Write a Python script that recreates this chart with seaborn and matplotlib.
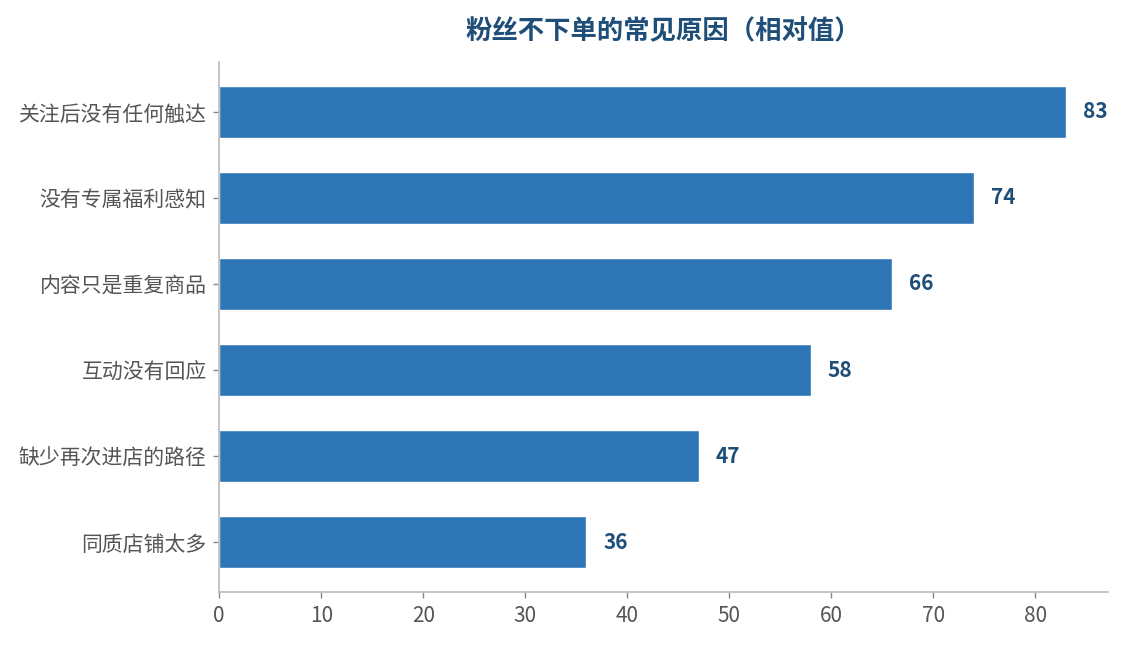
import seaborn as sns
import matplotlib.pyplot as plt
import pandas as pd

# Data
reasons = ['关注后没有任何触达', '没有专属福利感知', '内容只是重复商品',
           '互动没有回应', '缺少再次进店的路径', '同质店铺太多']
values = [83, 74, 66, 58, 47, 36]

df = pd.DataFrame({'reason': reasons, 'value': values})

sns.set_style('white')
plt.rcParams['font.family'] = ['Noto Sans CJK SC', 'DejaVu Sans']

fig = plt.figure(figsize=(11.24, 6.45), dpi=100)
ax = fig.add_axes([0.195, 0.082, 0.791, 0.822])

sns.barplot(data=df, x='value', y='reason', orient='h', color='#2E75B6',
            width=0.6, saturation=1, ax=ax)

for i, v in enumerate(values):
    ax.annotate(str(v), (v, i), xytext=(12, 0), textcoords='offset points',
                ha='left', va='center', fontsize=15, fontweight='bold', color='#1F4E79')

ax.set_xlim(0, 87.15)
ax.set_ylim(5.58, -0.58)
ax.set_xticks(range(0, 81, 10))
ax.set_xlabel('')
ax.set_ylabel('')
ax.set_title('粉丝不下单的常见原因（相对值）', fontsize=19, fontweight='bold',
             color='#1F4E79', pad=16)

for side in ['top', 'right']:
    ax.spines[side].set_visible(False)
for side in ['left', 'bottom']:
    ax.spines[side].set_color('#BBBBBB')
    ax.spines[side].set_linewidth(1.2)
ax.tick_params(axis='both', colors='#555555', labelsize=15, length=4, pad=5,
               left=True, bottom=True, width=1)
ax.tick_params(axis='both', color='#888888')

plt.savefig('out.png', dpi=100)
